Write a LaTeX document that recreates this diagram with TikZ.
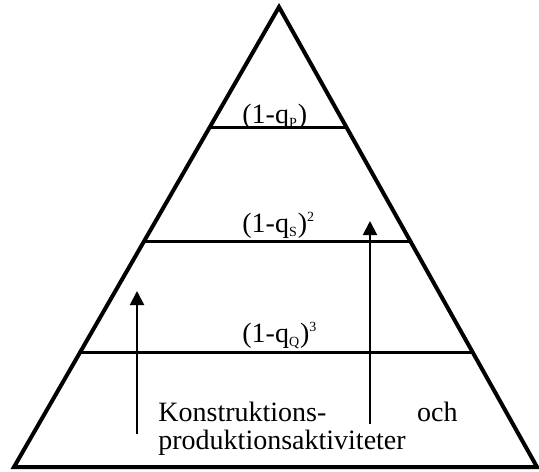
\documentclass[tikz,border=0pt]{standalone}
\usepackage{fontspec}
\setmainfont{Liberation Serif}
\usetikzlibrary{arrows.meta, calc}

\newcommand{\qsub}[1]{q\textsubscript{\scriptsize #1}}

\tikzset{
  level/.style={line width=1.5pt},
  lbl/.style={anchor=base west, inner sep=0pt},
  txt/.style={inner sep=0pt},
}

\begin{document}
\begin{tikzpicture}[x=0.5pt,y=-0.5pt,>={Triangle[width=7pt,length=7pt]}, font=\fontsize{14}{16}\selectfont]
\useasboundingbox (0,0) rectangle (539,471);

% --- Piramide
\coordinate (apex) at (279,7);
\coordinate (bl) at (14,467);
\coordinate (br) at (537,467);
\draw[line width=2pt] (apex) -- (bl) -- (br) -- cycle;

% --- Livelli
\draw[level] ($(apex)!0.263!(bl)$) -- ($(apex)!0.263!(br)$);
\draw[level] ($(apex)!0.509!(bl)$) -- ($(apex)!0.509!(br)$);
\draw[level] ($(apex)!0.752!(bl)$) -- ($(apex)!0.752!(br)$);

\node[lbl] (lp) at (242,123) {(1-\qsub{P})};
\node[lbl] (ls) at (242,232) {(1-\qsub{S})\textsuperscript{\scriptsize 2}};
\node[lbl] (lq) at (242,342) {(1-\qsub{Q})\textsuperscript{\scriptsize 3}};

% --- Frecce
\coordinate (la0) at (137,434);
\coordinate (la1) at (137,291);
\draw[->, line width=1pt] (la0) -- (la1);
\coordinate (ra0) at (370,424);
\coordinate (ra1) at (370,221);
\draw[->, line width=1pt] (ra0) -- (ra1);

% --- Testo
\node[txt, anchor=base west] (k) at (158,421) {Konstruktions-};
\node[txt, anchor=base east] (och) at (458,421) {och};
\node[txt, anchor=base west] (p) at (158,449) {produktionsaktiviteter};
\end{tikzpicture}
\end{document}
